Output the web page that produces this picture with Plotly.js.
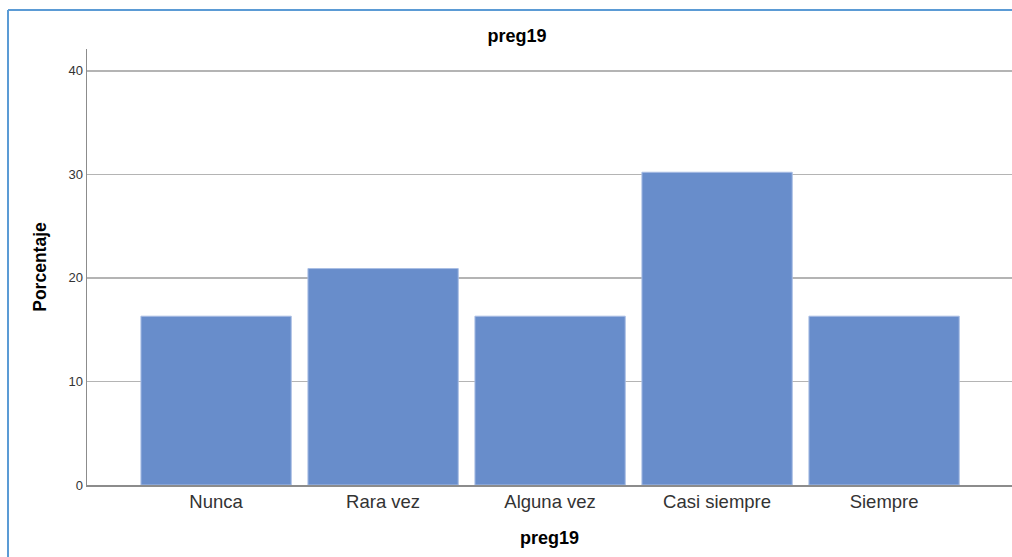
<!DOCTYPE html>
<html>
<head>
<meta charset="utf-8">
<script src="https://cdn.plot.ly/plotly-3.0.1.min.js"></script>
<style>
html,body{margin:0;padding:0;background:#fff;overflow:hidden;}
#chart{width:1012px;height:557px;}
</style>
</head>
<body>
<div id="chart"></div>
<script>
const categories = ["Nunca", "Rara vez", "Alguna vez", "Casi siempre", "Siempre"];
const percentages = [16.3, 20.9, 16.3, 30.2, 16.3];
const yTicks = [0, 10, 20, 30, 40];
const chartTitle = "preg19";
const xTitle = "preg19";
const yTitle = "Porcentaje";

const FONT = "Liberation Sans, Arial, sans-serif";

const trace = {
  type: "bar",
  x: categories.map((c, i) => i),
  y: percentages,
  width: 0.9,
  marker: {color: "#688dcb", line: {color: "#a8bde4", width: 1}},
  hoverinfo: "x+y"
};

const layout = {
  width: 1012,
  height: 557,
  margin: {l: 87, r: 0, t: 49, b: 72},
  paper_bgcolor: "#ffffff",
  plot_bgcolor: "#ffffff",
  showlegend: false,
  bargap: 0,
  font: {family: FONT, color: "#000"},
  title: {
    text: "<b>" + chartTitle + "</b>",
    font: {family: FONT, size: 18, color: "#000"},
    x: 517 / 1012, xanchor: "center", xref: "container",
    y: 1 - 36 / 557, yanchor: "middle", yref: "container"
  },
  xaxis: {
    range: [-0.773, 4.766],
    tickvals: categories.map((c, i) => i),
    ticktext: categories,
    showgrid: false,
    zeroline: false,
    showline: true,
    linecolor: "#8c8c8c",
    linewidth: 1.5,
    ticks: "",
    ticklabelstandoff: -1,
    tickfont: {family: FONT, size: 18.5, color: "#333"},
    automargin: false,
    title: {text: "<b>" + xTitle + "</b>", font: {family: FONT, size: 18, color: "#000"}, standoff: 20}
  },
  yaxis: {
    range: [0, 42.1],
    tickvals: yTicks,
    showgrid: true,
    gridcolor: "#b4b4b4",
    gridwidth: 1.5,
    zeroline: false,
    showline: true,
    linecolor: "#8c8c8c",
    linewidth: 1.5,
    ticks: "",
    tickfont: {family: FONT, size: 13, color: "#333"},
    automargin: false,
    title: {text: "<b>" + yTitle + "</b>", font: {family: FONT, size: 17.5, color: "#000"}, standoff: 17}
  },
  shapes: [
    {type: "line", xref: "paper", yref: "paper", x0: -0.0854, x1: -0.0854, y0: -0.25, y1: 1.0894, line: {color: "#5b9bd5", width: 2}},
    {type: "line", xref: "paper", yref: "paper", x0: -0.0854, x1: 1.1, y0: 1.0894, y1: 1.0894, line: {color: "#5b9bd5", width: 2}}
  ]
};

Plotly.newPlot("chart", [trace], layout, {displayModeBar: false, staticPlot: true});
</script>
</body>
</html>
